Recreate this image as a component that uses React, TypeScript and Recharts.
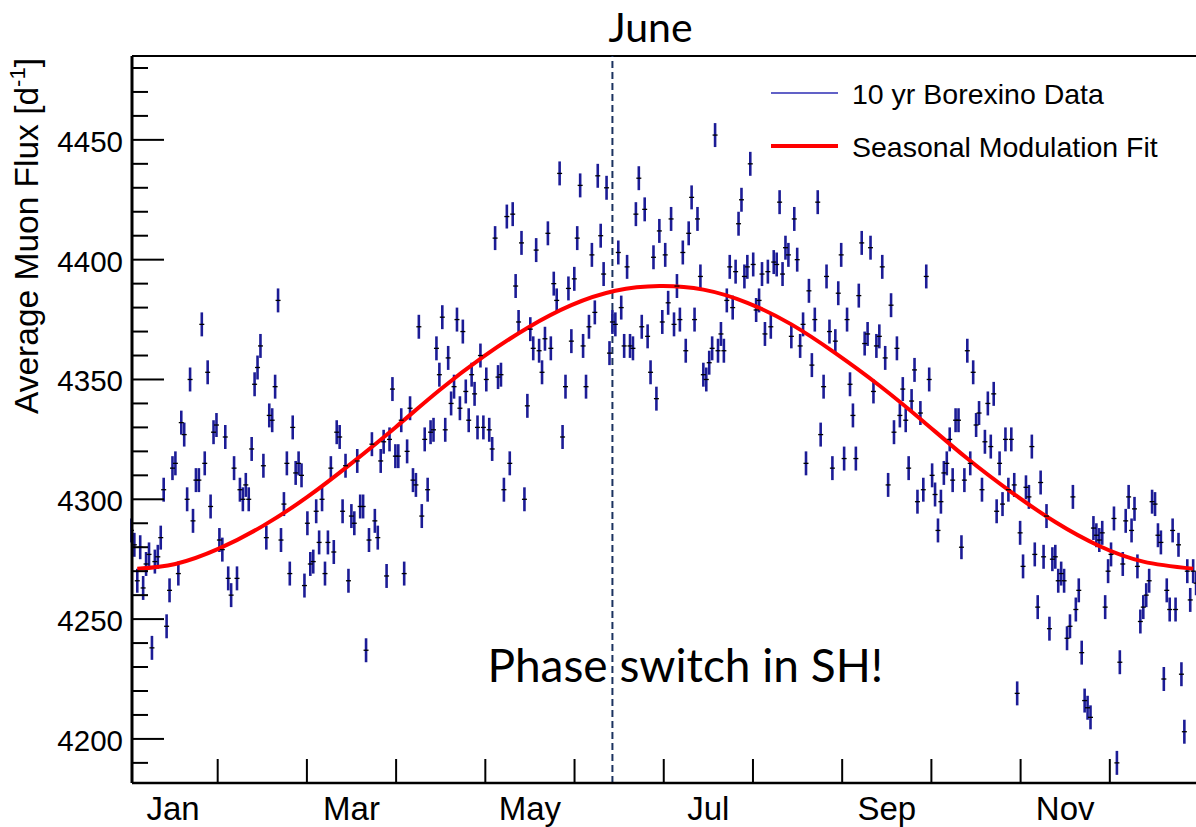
import { ComposedChart, Scatter, Line, XAxis, YAxis, ErrorBar, ReferenceLine, Legend } from 'recharts';

// daily average muon flux, one value per day of the year, grouped by month
const janFlux = [4287, 4281, 4266, 4280, 4263, 4273, 4277, 4238, 4274, 4276, 4284, 4304, 4247, 4262, 4313, 4315, 4269, 4332, 4327, 4300, 4350, 4291, 4308, 4308, 4373, 4315, 4353, 4297, 4328, 4331, 4283];
const febFlux = [4279, 4326, 4267, 4260, 4313, 4267, 4304, 4300, 4306, 4300, 4321, 4348, 4355, 4364, 4314, 4284, 4335, 4333, 4347, 4383, 4283, 4298, 4315, 4269, 4330, 4311, 4315, 4310];
const marFlux = [4264, 4290, 4273, 4274, 4295, 4282, 4300, 4269, 4282, 4313, 4278, 4328, 4326, 4295, 4314, 4266, 4293, 4290, 4316, 4297, 4297, 4237, 4283, 4323, 4291, 4284, 4316, 4324, 4268, 4325, 4346];
const aprFlux = [4318, 4318, 4333, 4269, 4320, 4338, 4308, 4306, 4372, 4293, 4325, 4304, 4328, 4329, 4363, 4352, 4376, 4329, 4359, 4340, 4347, 4375, 4338, 4370, 4345, 4333, 4352, 4344, 4330, 4360];
const mayFlux = [4330, 4350, 4329, 4321, 4409, 4351, 4352, 4304, 4418, 4315, 4419, 4389, 4374, 4407, 4300, 4339, 4371, 4363, 4404, 4362, 4353, 4367, 4411, 4363, 4390, 4383, 4436, 4326, 4347, 4388, 4366];
const junFlux = [4392, 4409, 4431, 4364, 4347, 4372, 4402, 4378, 4435, 4410, 4394, 4430, 4361, 4374, 4373, 4403, 4380, 4364, 4397, 4364, 4363, 4419, 4434, 4372, 4421, 4368, 4353, 4401, 4342, 4412];
const julFlux = [4374, 4402, 4382, 4417, 4373, 4389, 4375, 4403, 4362, 4411, 4426, 4375, 4417, 4393, 4352, 4350, 4357, 4363, 4452, 4362, 4369, 4362, 4383, 4397, 4380, 4395, 4415, 4425, 4393, 4397, 4440];
const augFlux = [4398, 4379, 4383, 4394, 4369, 4395, 4372, 4399, 4398, 4424, 4394, 4405, 4402, 4368, 4417, 4400, 4364, 4373, 4315, 4387, 4356, 4375, 4424, 4327, 4347, 4393, 4370, 4313, 4366, 4386, 4402];
const sepFlux = [4317, 4375, 4348, 4335, 4317, 4385, 4407, 4365, 4369, 4405, 4345, 4364, 4368, 4397, 4359, 4306, 4381, 4328, 4363, 4335, 4346, 4333, 4313, 4341, 4354, 4299, 4336, 4304, 4393, 4350];
const octFlux = [4310, 4302, 4287, 4299, 4311, 4315, 4325, 4308, 4333, 4333, 4280, 4308, 4362, 4315, 4353, 4331, 4336, 4304, 4324, 4340, 4322, 4344, 4295, 4315, 4298, 4325, 4304, 4325, 4306, 4219, 4286];
const novFlux = [4272, 4305, 4301, 4322, 4277, 4255, 4307, 4276, 4293, 4246, 4275, 4276, 4266, 4269, 4266, 4242, 4247, 4301, 4254, 4262, 4236, 4216, 4213, 4209, 4288, 4285, 4283, 4286, 4255, 4270];
const decFlux = [4277, 4292, 4190, 4232, 4273, 4291, 4301, 4287, 4296, 4272, 4249, 4255, 4260, 4266, 4299, 4298, 4285, 4282, 4225, 4262, 4254, 4287, 4254, 4281, 4227, 4203, 4270, 4258, 4270, 4265, 4287];
const fluxError = 5;

// seasonal modulation fit, sampled along the curve
const fitDays = [3, 16, 31, 46, 61, 76, 91, 106, 121, 136, 151, 166, 181, 196, 211, 226, 241, 256, 271, 286, 301, 316, 331, 346, 363];
const fitFlux = [4271, 4273, 4279.5, 4289, 4301, 4315, 4330, 4345.5, 4359.5, 4371.5, 4381, 4387, 4389, 4387.5, 4382, 4373, 4361, 4347.5, 4332.5, 4317, 4303, 4290.5, 4280.5, 4274, 4271];

const monthLabels = ['Jan', 'Mar', 'May', 'Jul', 'Sep', 'Nov'];
const phaseDay = 165;

const legendItems = [
  { label: '10 yr Borexino Data', color: '#2d2db5', width: 1.5 },
  { label: 'Seasonal Modulation Fit', color: '#ff0000', width: 4 },
];

const points = [janFlux, febFlux, marFlux, aprFlux, mayFlux, junFlux, julFlux, augFlux, sepFlux, octFlux, novFlux, decFlux]
  .flat()
  .map((flux, i) => ({ day: i + 1, flux, err: fluxError }));
const fitPoints = fitDays.map((day, i) => ({ day, fit: fitFlux[i] }));

const CHART_W = 1240;
const CHART_H = 827;
const PLOT_LEFT = 132;
const PLOT_TOP = 56;
const X_AXIS_H = 44;
const PLOT_BOTTOM = CHART_H - X_AXIS_H;
const PX_PER_DAY = 2.933;
const DAY_MIN = 1.2;
const DAY_MAX = DAY_MIN + (CHART_W - PLOT_LEFT) / PX_PER_DAY;
const Y_MIN = 4181.6;
const Y_MAX = 4485;

const SANS = "'Liberation Sans', Arial, Helvetica, sans-serif";
const HUMANIST = "Lato, 'Open Sans', sans-serif";

const monthSpan = 365 / 12;
const monthEdges = Array.from({ length: 12 }, (_, i) => (i + 1) * monthSpan);
const labelDays = monthLabels.map((_, i) => (2 * i + 0.5) * monthSpan);
const xTicks = [...monthEdges, ...labelDays].sort((a, b) => a - b);
const yTicks = Array.from({ length: 30 }, (_, i) => 4190 + i * 10);

function MonthTick(props: any) {
  const { x, payload } = props;
  const idx = labelDays.findIndex((d) => Math.abs(d - payload.value) < 1e-6);
  if (idx >= 0) {
    return (
      <text x={x} y={820} textAnchor="middle" fontSize={33} fontFamily={SANS} fill="#000">
        {monthLabels[idx]}
      </text>
    );
  }
  return <line x1={x} x2={x} y1={PLOT_BOTTOM} y2={PLOT_BOTTOM - 24} stroke="#000" strokeWidth={2} />;
}

function FluxTick(props: any) {
  const { y, payload } = props;
  const major = payload.value % 50 === 0;
  return (
    <g>
      <line x1={PLOT_LEFT} x2={PLOT_LEFT + (major ? 32 : 16)} y1={y} y2={y} stroke="#000" strokeWidth={2} />
      {major && (
        <text x={123} y={y} dy={12} textAnchor="end" fontSize={29.5} fontFamily={SANS} fill="#000">
          {payload.value}
        </text>
      )}
    </g>
  );
}

function FluxTitle() {
  return (
    <text x={38} y={236} transform="rotate(-90, 38, 236)" textAnchor="middle" fontSize={33.5} fontFamily={SANS} fill="#000">
      Average Muon Flux [d
      <tspan dy={-13} fontSize={22}>-1</tspan>
      <tspan dy={13}>]</tspan>
    </text>
  );
}

function PhaseLabels(props: any) {
  const x = props.viewBox?.x ?? 0;
  return (
    <g fontFamily={HUMANIST} fill="#000">
      <text x={x - 4} y={42} fontSize={41}>June</text>
      <text x={x - 125} y={682} fontSize={46}>Phase switch in SH!</text>
    </g>
  );
}

function LegendBox() {
  return (
    <svg width={440} height={100}>
      {legendItems.map((item, i) => (
        <g key={item.label}>
          <line x1={11} x2={78} y1={23 + i * 53} y2={23 + i * 53} stroke={item.color} strokeWidth={item.width} />
          <text x={92} y={34 + i * 53} fontSize={28.5} fontFamily={SANS} fill="#000">
            {item.label}
          </text>
        </g>
      ))}
    </svg>
  );
}

const CenterMark = (props: any) => {
  const { cx, cy } = props;
  return <line x1={cx - 2.5} x2={cx + 2.5} y1={cy} y2={cy} stroke="#000" strokeWidth={1.3} />;
};

export default function App() {
  return (
    <div style={{ position: 'absolute', left: 0, top: 0, width: 1196, height: 827, overflow: 'hidden', background: '#fff' }}>
      <ComposedChart width={CHART_W} height={CHART_H} margin={{ top: PLOT_TOP, right: 0, bottom: 0, left: 0 }}>
        <XAxis
          type="number"
          dataKey="day"
          domain={[DAY_MIN, DAY_MAX]}
          ticks={xTicks}
          interval={0}
          tick={<MonthTick />}
          tickLine={false}
          axisLine={{ stroke: '#000', strokeWidth: 2.5 }}
          height={X_AXIS_H}
          allowDataOverflow
        />
        <YAxis
          type="number"
          domain={[Y_MIN, Y_MAX]}
          ticks={yTicks}
          interval={0}
          tick={<FluxTick />}
          tickLine={false}
          axisLine={{ stroke: '#000', strokeWidth: 3 }}
          width={PLOT_LEFT}
          label={() => <FluxTitle />}
          allowDataOverflow
        />
        <ReferenceLine y={Y_MAX} stroke="#000" strokeWidth={2} ifOverflow="extendDomain" />
        <ReferenceLine
          x={phaseDay}
          stroke="#1b3260"
          strokeWidth={2}
          strokeDasharray="7 4"
          label={(p: any) => <PhaseLabels {...p} />}
        />
        <Scatter data={points} dataKey="flux" shape={<CenterMark />} isAnimationActive={false} legendType="none">
          <ErrorBar dataKey="err" direction="y" width={0} stroke="#1c1c96" strokeWidth={2.6} />
        </Scatter>
        <Line
          data={fitPoints}
          dataKey="fit"
          type="natural"
          stroke="#ff0000"
          strokeWidth={4}
          dot={false}
          activeDot={false}
          isAnimationActive={false}
          legendType="none"
        />
        <Legend
          layout="vertical"
          verticalAlign="middle"
          align="center"
          wrapperStyle={{ top: 70, left: 760, width: 440, height: 100 }}
          content={() => <LegendBox />}
        />
      </ComposedChart>
    </div>
  );
}
